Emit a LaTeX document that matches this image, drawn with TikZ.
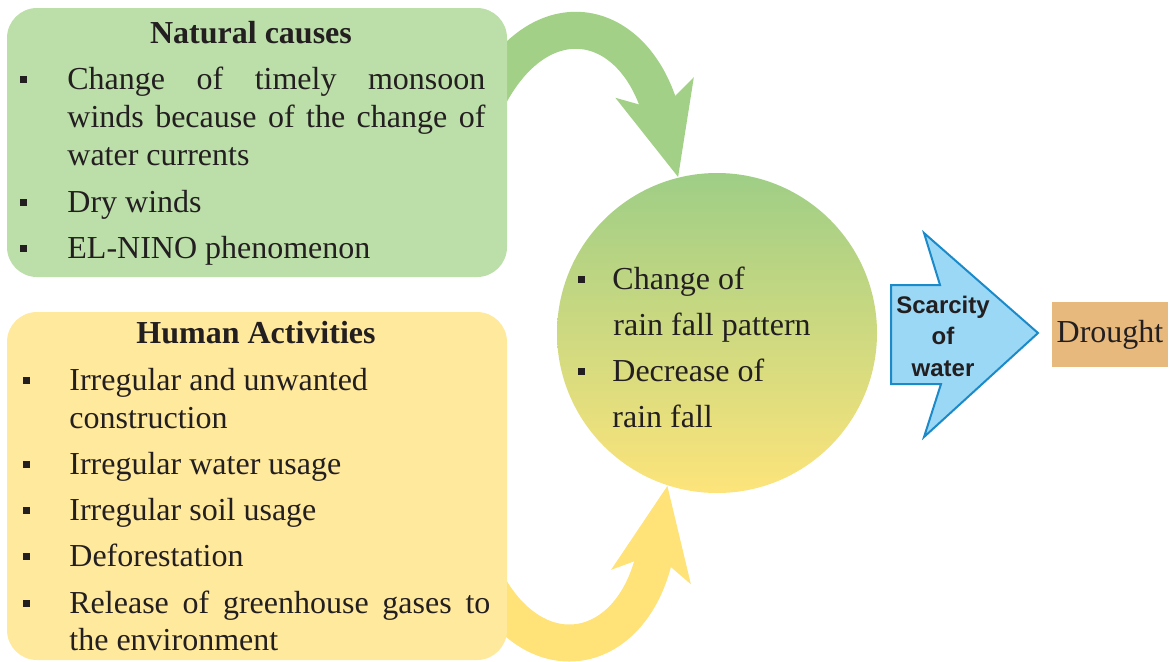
\documentclass[tikz,border=0pt]{standalone}
\usepackage{fontspec}
\setmainfont{Liberation Serif}
\newfontfamily\sansbold{Liberation Sans}
\usepackage{tikz}
\usetikzlibrary{arrows.meta,positioning,shapes}

\definecolor{natfill}{HTML}{BCDEA9}
\definecolor{natarrow}{HTML}{A2D087}
\definecolor{humfill}{HTML}{FFE99D}
\definecolor{humarrow}{HTML}{FFE278}
\definecolor{raintop}{HTML}{9ECE86}
\definecolor{rainbot}{HTML}{FDE47A}
\definecolor{scarfill}{HTML}{9AD8F6}
\definecolor{scardraw}{HTML}{1C8AC9}
\definecolor{drfill}{HTML}{E7B97D}
\definecolor{ink}{HTML}{231F20}

\tikzstyle{box}=[rectangle,rounded corners=15pt,minimum width=250pt,inner sep=0pt]
\tikzstyle{lbl}=[anchor=base west,inner sep=0pt,text=ink,font=\fontsize{16}{19}\selectfont]
\tikzstyle{ttl}=[anchor=base,inner sep=0pt,text=ink,font=\fontsize{16}{19}\selectfont\bfseries]
\tikzstyle{bigarrow}=[line width=18.5pt,-{Stealth[length=45.5pt,width=39pt,inset=11pt]}]
\tikzstyle{scarcity}=[fill=scarfill,draw=scardraw,line width=1pt]

\newcommand{\bul}[1][23.5pt]{\makebox[#1][l]{\rule[3.2pt]{3.5pt}{3.5pt}}}
\newcommand{\jline}[2][209pt]{\makebox[#1][s]{#2}}

\begin{document}
\begin{tikzpicture}[x=0.5pt,y=-0.5pt,>=Stealth]
            \useasboundingbox (0,0) rectangle (1170,661);

            % RAIN FALL PART

            \node[circle,inner sep=0pt,minimum size=160pt,top color=raintop,bottom color=rainbot] (rain) at (717,333) {};
            \node[lbl] (r1) at (578,289) {\bul[17pt]Change of};
            \node[lbl] (r2) at (613,335) {rain fall pattern};
            \node[lbl] (r3) at (578,381) {\bul[17pt]Decrease of};
            \node[lbl] (r4) at (612,427) {rain fall};

            % ARROWS INTO THE CIRCLE

            \coordinate (gs) at (480,115);
            \coordinate (ys) at (480,570);
            \draw[bigarrow,natarrow] (gs) .. controls (530,-5) and (634,9) .. (rain.104);
            \draw[bigarrow,humarrow] (ys) .. controls (530,680) and (636,660) .. (rain.252);

            % NATURAL PART

            \node[box,fill=natfill,minimum height=134.5pt] (nat) at (257,142.5) {};
            \node[ttl] (nt) at (251,43) {Natural causes};
            \node[lbl] (n1) at (20,89) {\bul\jline{Change of timely monsoon}};
            \node[lbl] (n1b) at (67,127) {\jline{winds because of the change of}};
            \node[lbl] (n1c) at (67,165) {water currents};
            \node[lbl] (n2) at (20,212) {\bul Dry winds};
            \node[lbl] (n3) at (20,258) {\bul EL-NINO phenomenon};

            % HUMAN PART

            \node[box,fill=humfill,minimum height=174pt] (hum) at (257,486) {};
            \node[ttl] (ht) at (256,343) {Human Activities};
            \node[lbl] (h1) at (23,390) {\bul[23pt]Irregular and unwanted};
            \node[lbl] (h1b) at (69,428) {construction};
            \node[lbl] (h2) at (23,474) {\bul[23pt]Irregular water usage};
            \node[lbl] (h3) at (23,520) {\bul[23pt]Irregular soil usage};
            \node[lbl] (h4) at (23,566) {\bul[23pt]Deforestation};
            \node[lbl] (h5) at (23,613) {\bul[23pt]\jline[210.5pt]{Release of greenhouse gases to}};
            \node[lbl] (h5b) at (69,650) {the environment};

            % SCARCITY AND DROUGHT

            \draw[scarcity] (891,285) -- (940,285) -- (924,233) -- (1038,333) -- (924,437) -- (941,384) -- (891,384) -- cycle;
            \node[align=center,inner sep=0pt,text=ink,font=\sansbold\bfseries\fontsize{12}{15.75}\selectfont] (scar) at (943,336) {Scarcity\\of\\water};
            \node[rectangle,fill=drfill,inner sep=0pt,minimum width=58pt,minimum height=32.5pt,text=ink,font=\fontsize{16}{19}\selectfont] (drought) at (1110,334.5) {Drought};

        \end{tikzpicture}
\end{document}
